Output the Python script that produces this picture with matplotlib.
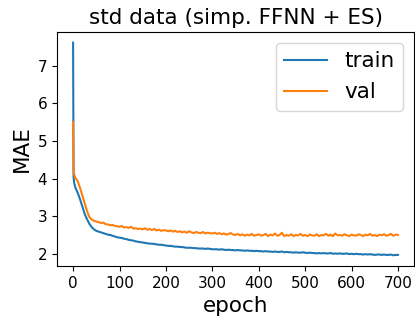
import matplotlib
matplotlib.use("Agg")
import matplotlib.pyplot as plt

# epochs: first few single epochs, then every 5th
epochs = [0, 1, 2, 3, 4] + list(range(5, 701, 5))

train_mae = [
    7.62, 4.05, 3.92, 3.85, 3.80,
    3.76, 3.62, 3.45, 3.25, 3.06, 2.92, 2.80, 2.71, 2.65, 2.61,
    2.59, 2.57, 2.55, 2.53, 2.51, 2.50, 2.48, 2.46, 2.44, 2.43,
    2.42, 2.40, 2.39, 2.37, 2.36, 2.35, 2.33, 2.32, 2.31, 2.30,
    2.29, 2.28, 2.27, 2.27, 2.26, 2.25, 2.24, 2.24, 2.23, 2.22,
    2.21, 2.21, 2.20, 2.19, 2.19, 2.18, 2.18, 2.17, 2.16, 2.16,
    2.16, 2.15, 2.15, 2.14, 2.14, 2.14, 2.13, 2.14, 2.13, 2.12,
    2.12, 2.12, 2.11, 2.12, 2.11, 2.10, 2.11, 2.10, 2.10, 2.09,
    2.10, 2.09, 2.09, 2.08, 2.09, 2.08, 2.08, 2.07, 2.08, 2.07,
    2.07, 2.06, 2.07, 2.06, 2.06, 2.05, 2.06, 2.05, 2.05, 2.06,
    2.04, 2.05, 2.04, 2.04, 2.03, 2.04, 2.03, 2.03, 2.04, 2.03,
    2.02, 2.03, 2.02, 2.02, 2.01, 2.02, 2.01, 2.02, 2.01, 2.01,
    2.02, 2.00, 2.01, 2.00, 2.01, 2.00, 2.00, 2.01, 1.99, 2.00,
    1.99, 2.00, 1.99, 1.99, 1.98, 1.99, 1.98, 1.99, 1.98, 1.97,
    1.98, 1.98, 1.97, 1.98, 1.97, 1.97, 1.98, 1.96, 1.97, 1.97,
]

val_mae = [
    5.50, 4.25, 4.12, 4.08, 4.05,
    4.02, 3.93, 3.75, 3.55, 3.34, 3.14, 2.98, 2.91, 2.88, 2.86,
    2.84, 2.82, 2.83, 2.79, 2.78, 2.76, 2.77, 2.74, 2.73, 2.72,
    2.74, 2.70, 2.71, 2.69, 2.72, 2.67, 2.68, 2.66, 2.67, 2.65,
    2.68, 2.64, 2.66, 2.63, 2.66, 2.62, 2.64, 2.61, 2.63, 2.62,
    2.60, 2.62, 2.59, 2.61, 2.58, 2.60, 2.57, 2.59, 2.56, 2.60,
    2.57, 2.55, 2.58, 2.56, 2.55, 2.58, 2.54, 2.56, 2.55, 2.54,
    2.56, 2.53, 2.55, 2.52, 2.54, 2.51, 2.53, 2.55, 2.51, 2.50,
    2.53, 2.49, 2.52, 2.48, 2.51, 2.49, 2.53, 2.48, 2.50, 2.52,
    2.48, 2.50, 2.53, 2.47, 2.51, 2.49, 2.54, 2.48, 2.50, 2.56,
    2.47, 2.50, 2.48, 2.52, 2.47, 2.50, 2.49, 2.53, 2.48, 2.50,
    2.47, 2.51, 2.49, 2.48, 2.52, 2.47, 2.50, 2.49, 2.53, 2.48,
    2.51, 2.47, 2.54, 2.49, 2.50, 2.48, 2.52, 2.49, 2.47, 2.51,
    2.49, 2.48, 2.52, 2.50, 2.47, 2.51, 2.49, 2.53, 2.48, 2.50,
    2.47, 2.51, 2.49, 2.52, 2.48, 2.50, 2.53, 2.48, 2.51, 2.50,
]

fig = plt.figure(figsize=(4.15, 3.2), dpi=100)
ax = fig.add_axes([0.137, 0.169, 0.861, 0.731])

ax.plot(epochs, train_mae, label="train")
ax.plot(epochs, val_mae, label="val")

ax.set_title("std data (simp. FFNN + ES)", fontsize=15.5)
ax.set_xlabel("epoch", fontsize=15.5)
ax.set_ylabel("MAE", fontsize=15.5)
ax.tick_params(labelsize=11)
ax.set_xticks(range(0, 701, 100))
ax.legend(fontsize=15.5)

fig.savefig("out.png", dpi=100)
